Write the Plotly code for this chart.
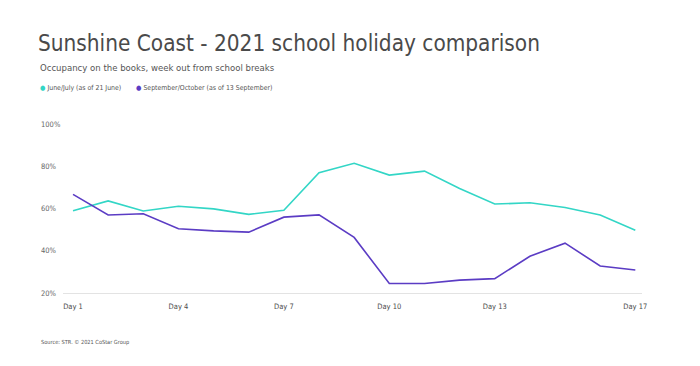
import plotly.graph_objects as go

days = list(range(1, 18))
tick_days = [1, 4, 7, 10, 13, 17]
tick_labels = [f"Day {d}" for d in tick_days]

june_july = [58.9, 63.6, 58.8, 61.1, 59.8, 57.2, 59.2, 76.9, 81.4, 75.8, 77.7, 69.5, 62.1, 62.7, 60.5, 56.9, 49.7]
sep_oct = [66.7, 56.9, 57.5, 50.4, 49.4, 48.8, 55.9, 57.0, 46.3, 24.5, 24.5, 26.1, 26.8, 37.4, 43.6, 32.8, 30.9]

y_ticks = [20, 40, 60, 80, 100]
y_tick_labels = ["20%", "40%", "60%", "80%", "100%"]

series_names = ["June/July (as of 21 June)", "September/October (as of 13 September)"]
colors = ["#33d6c6", "#5b3cc4"]

FONT = "DejaVu Sans Condensed, Roboto, sans-serif"

fig = go.Figure()
for vals, name, c in zip([june_july, sep_oct], series_names, colors):
    fig.add_trace(go.Scatter(x=days, y=vals, mode="lines", name=name,
                             line=dict(color=c, width=1.6), showlegend=False))

L, R, T, B = 63, 58, 124, 73
W, H = 700, 366

fig.update_layout(
    width=W, height=H,
    margin=dict(l=L, r=R, t=T, b=B),
    paper_bgcolor="white", plot_bgcolor="white",
    font=dict(family=FONT, color="#555555"),
    xaxis=dict(range=[0.715, 17.19], tickvals=tick_days, ticktext=tick_labels,
               showgrid=False, zeroline=False, showline=True, linecolor="#e3e3e3",
               linewidth=1, ticks="", ticklabelstandoff=6,
               tickfont=dict(size=7.5, color="#4d4d4d", family=FONT)),
    yaxis=dict(range=[20, 100], showgrid=False, zeroline=False, showticklabels=False,
               tickvals=y_ticks),
)

def px(x):
    return (x - L) / (W - L - R)

def py(y):
    return (H - B - y) / (H - T - B)

# y tick labels, left aligned
for v, t in zip(y_ticks, y_tick_labels):
    fig.add_annotation(x=px(39), xref="paper", y=v, yref="y",
                       text=t, showarrow=False, xanchor="left", yanchor="middle",
                       font=dict(size=7.5, color="#666666", family=FONT))

fig.add_annotation(x=px(36), y=py(43), xref="paper", yref="paper",
                   text="Sunshine Coast - 2021 school holiday comparison",
                   showarrow=False, xanchor="left", yanchor="middle",
                   font=dict(size=22.4, color="#4a4a4a", family=FONT))
fig.add_annotation(x=px(38), y=py(67), xref="paper", yref="paper",
                   text="Occupancy on the books, week out from school breaks",
                   showarrow=False, xanchor="left", yanchor="middle",
                   font=dict(size=9.5, color="#555555", family=FONT))

legend_x = [38, 134]
for lx, name, c in zip(legend_x, series_names, colors):
    fig.add_annotation(x=px(lx), y=py(88), xref="paper", yref="paper",
                       text=f"<span style='color:{c}'>●</span> {name}",
                       showarrow=False, xanchor="left", yanchor="middle",
                       font=dict(size=6.9, color="#555555", family=FONT))

fig.add_annotation(x=px(39), y=py(342), xref="paper", yref="paper",
                   text="Source: STR. © 2021 CoStar Group",
                   showarrow=False, xanchor="left", yanchor="middle",
                   font=dict(size=5.6, color="#555555", family=FONT))

fig.write_html("out.html", config={"displayModeBar": False},
               post_script="document.body.style.margin='0';")
